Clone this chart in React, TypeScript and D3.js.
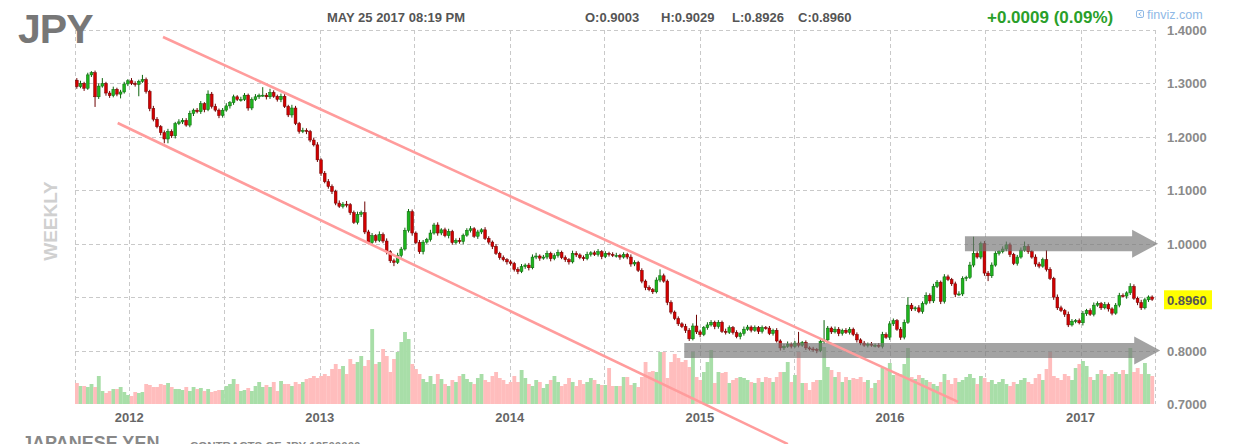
import React from 'react';
import * as d3 from 'd3';

const W = 1238;
const H = 444;

// ---------- data (weekly JPY futures) ----------
const firstOpen = 1.306;
const closes = [
  1.294,1.300,1.291,1.316,1.320,1.275,1.295,1.300,1.282,1.277,
  1.289,1.280,1.284,1.299,1.305,1.300,1.298,1.304,1.307,1.285,
  1.253,1.233,1.219,1.208,1.196,1.210,1.202,1.225,1.228,1.231,
  1.222,1.244,1.250,1.247,1.262,1.251,1.280,1.257,1.250,1.240,
  1.250,1.258,1.264,1.275,1.270,1.270,1.278,1.254,1.270,1.275,
  1.278,1.278,1.275,1.283,1.276,1.270,1.276,1.257,1.241,1.254,
  1.225,1.210,1.212,1.210,1.194,1.185,1.157,1.132,1.116,1.107,
  1.098,1.076,1.070,1.074,1.073,1.058,1.040,1.055,1.058,1.022,
  1.002,1.015,1.006,1.017,1.005,0.985,0.968,0.965,0.978,0.990,
  1.025,1.060,1.020,1.002,0.985,1.003,1.008,1.020,1.035,1.020,
  1.026,1.015,1.023,1.002,1.006,1.004,1.016,1.025,1.028,1.014,
  1.022,1.026,1.010,1.003,0.995,0.982,0.974,0.970,0.966,0.963,
  0.952,0.948,0.957,0.960,0.955,0.975,0.977,0.973,0.975,0.982,
  0.972,0.978,0.984,0.974,0.970,0.966,0.982,0.979,0.974,0.972,
  0.980,0.983,0.980,0.985,0.976,0.982,0.980,0.978,0.978,0.975,
  0.980,0.975,0.962,0.965,0.950,0.930,0.918,0.914,0.910,0.932,
  0.940,0.930,0.890,0.872,0.860,0.850,0.845,0.838,0.822,0.846,
  0.835,0.830,0.843,0.848,0.853,0.845,0.853,0.836,0.834,0.843,
  0.834,0.826,0.832,0.840,0.844,0.838,0.843,0.836,0.843,0.842,
  0.832,0.838,0.818,0.805,0.808,0.812,0.808,0.814,0.810,0.815,
  0.805,0.803,0.802,0.800,0.817,0.820,0.842,0.835,0.840,0.832,
  0.838,0.834,0.840,0.830,0.820,0.814,0.810,0.812,0.810,0.810,
  0.808,0.830,0.825,0.850,0.856,0.840,0.825,0.853,0.885,0.878,
  0.880,0.873,0.888,0.903,0.893,0.920,0.928,0.892,0.938,0.933,
  0.925,0.905,0.906,0.935,0.937,0.960,0.982,0.975,1.000,0.945,
  0.940,0.960,0.982,0.985,0.990,0.998,0.980,0.963,0.975,0.988,
  0.995,0.985,0.975,0.962,0.958,0.970,0.952,0.935,0.900,0.880,
  0.875,0.868,0.848,0.855,0.856,0.852,0.869,0.875,0.868,0.885,
  0.888,0.880,0.886,0.878,0.870,0.885,0.903,0.902,0.908,0.920,
  0.898,0.890,0.880,0.895,0.9003,0.8960,
];
// wick extents above / below the body, in thousandths
const wickUp = [
  4,5,3,4,3,4,5,10,3,4, 5,3,4,4,3,5,4,3,9,4, 3,5,4,3,4,5,4,3,5,4, 4,5,3,4,5,3,7,4,5,3,
  4,5,3,4,3,5,4,3,4,5, 3,15,4,7,4,3,5,4,3,6, 4,3,5,4,3,4,5,3,4,5, 4,3,5,4,6,3,4,5,4,21,
  4,5,3,6,4,5,3,4,5,4, 5,5,4,3,5,4,3,6,4,5, 3,4,5,3,4,5,3,4,5,3, 4,3,5,4,3,4,3,4,3,4,
  3,4,5,3,4,5,6,3,4,5, 3,4,5,3,4,3,5,4,3,4, 5,3,4,5,3,4,3,4,5,3, 4,3,5,4,3,4,3,4,3,5,
  12,4,3,4,3,4,3,5,4,5, 21,4,3,5,4,3,4,3,5,4, 3,4,3,5,4,3,4,3,4,3, 4,3,4,3,4,5,3,4,21,3,
  4,3,4,3,5,37,4,3,5,4, 3,4,4,3,4,3,4,3,4,3, 4,5,4,5,4,3,4,5,15,4, 3,5,4,6,4,5,4,3,5,4,
  3,4,5,4,3,6,31,4,4,5, 4,5,4,3,5,6,4,3,4,5, 9,4,3,5,4,4,18,4,3,5, 4,3,5,4,3,4,5,3,4,5,
  4,3,5,4,3,4,5,4,3,6, 4,3,5,4,3,3,
];
const wickDown = [
  4,3,5,3,4,19,4,3,5,4, 3,4,8,3,4,3,4,22,3,4, 5,4,3,5,8,8,4,5,3,4, 3,4,5,3,4,5,3,4,3,5,
  4,3,5,4,3,4,3,5,4,3, 4,3,5,4,3,4,5,3,4,5, 3,4,3,5,4,3,4,5,3,4, 5,4,3,4,5,4,3,4,5,4,
  3,5,4,3,4,5,4,7,3,4, 3,4,5,3,4,5,3,4,3,5, 4,3,5,4,3,4,5,3,4,3, 5,4,3,4,5,3,4,3,5,4,
  4,5,3,4,5,3,4,5,3,4, 5,3,4,3,4,5,3,4,3,4, 3,4,3,4,5,3,4,3,4,5, 3,4,5,4,3,4,5,3,4,3,
  4,3,5,4,3,4,3,5,4,3, 4,5,3,4,3,5,4,3,4,3, 4,3,5,4,3,4,3,5,4,3, 3,4,3,5,4,3,4,3,4,3,
  4,3,4,5,3,4,3,4,3,5, 4,3,4,3,5,4,3,4,3,4, 3,4,3,5,4,3,5,4,3,4, 4,3,4,3,5,4,3,5,4,3,
  4,5,3,4,5,3,4,3,4,5, 10,4,3,4,3,4,5,3,4,3, 3,4,3,5,4,3,4,3,5,4, 3,5,4,3,4,3,5,4,3,4,
  3,4,3,5,4,3,4,3,5,4, 3,5,4,3,4,3,
];
const volumes = [
  21,18,18,17,20,17,28,13,11,13, 15,15,17,12,9,8,12,11,12,20,
  19,17,17,20,19,21,17,15,15,14, 17,13,17,15,16,13,15,12,13,14,
  14,18,20,25,20,13,14,16,13,18, 22,17,19,17,22,13,23,20,20,18, 22,20,22,25,26,28,26,28,
  30,28,35,40,35,38,30,45,40,42, 48,38,44,75,40,42,55,48,32,45, 52,62,72,65,40,35,
  30,25,22,28,20,30,25,20,18,24, 22,28,30,25,22,20,26,30,24,22, 28,32,26,24,20,22,
  28,22,34,26,20,18,24,22,16,20, 24,28,22,18,20,26,22,18,24,20, 22,26,24,20,
  19,19,36,18,18,18,27,27,19,21, 17,27,42,32,33,32,52,52,26,42, 50,46,42,44,37,52,27,24,32,42,
  54,21,32,31,32,21,24,26,27,26, 24,22,21,26,22,27,26,22,27,32, 32,42,22,29,52,21,21,14,22,24,
  24,57,37,34,27,32,22,27,24,26, 25,27,22,24,16,21,24,36,34,41, 29,31,
  30,40,56,27,25,29,26,24,22,20, 18,22,30,24,20,26,22,24,27,30, 26,20,28,26,22,24,20,22,25,20,
  18,22,20,24,26,22,20,26,30,24, 35,52,28,26,24,30,28,24,36,40, 43,38,27,24,30,34,30,28,30,32,
  30,34,30,56,32,36,30,41,30,28,
];
const priceTicks = [1.4, 1.3, 1.2, 1.1, 1.0, 0.9, 0.8, 0.7];
const yearTicks = [2012, 2013, 2014, 2015, 2016, 2017];
const halfYearTicks = [2012, 2013, 2014, 2015, 2016];
const lastPrice = 0.896;
const headerDate = 'MAY 25 2017 08:19 PM';
const ohlcLabels = ['O:0.9003', 'H:0.9029', 'L:0.8926', 'C:0.8960'];
const changeLabel = '+0.0009 (0.09%)';
// channel trend lines and level arrows (date, price)
const channelUpper = [{ date: '2012-03-06', price: 1.387 }, { date: '2016-05-11', price: 0.704 }];
const channelLower = [{ date: '2011-12-10', price: 1.226 }, { date: '2015-06-19', price: 0.625 }];
const levelArrows = [
  { from: '2016-05-24', to: '2017-05-30', price: 1.0 },
  { from: '2014-12-02', to: '2017-06-03', price: 0.8 },
];

const FONT = 'Liberation Sans, Arial, Helvetica, sans-serif';

export default function App() {
  const x = d3.scaleTime()
    .domain([new Date(2011, 8, 19), new Date(2017, 4, 24)])
    .range([75, 1155]);
  const y = d3.scaleLinear().domain([0.7, 1.4]).range([404, 30]);
  const vy = d3.scaleLinear().domain([0, 80]).range([404, 324]);
  const parse = d3.timeParse('%Y-%m-%d');
  const week0 = new Date(2011, 8, 22, 12);
  const step = x(d3.timeDay.offset(week0, 7)) - x(week0);

  const candles = closes.map((c, i) => {
    const o = i === 0 ? firstOpen : closes[i - 1];
    const hi = Math.max(o, c) + (wickUp[i] ?? 4) / 1000;
    const lo = Math.min(o, c) - (wickDown[i] ?? 4) / 1000;
    return { date: d3.timeDay.offset(week0, 7 * i), o, c, hi, lo, v: volumes[i] ?? 0, up: c >= o };
  });

  const gridColor = '#c9c9c9';
  const dash = '4,3';

  return (
    <svg width={W} height={H} style={{ position: 'absolute', left: 0, top: 0, background: '#fff' }}
      fontFamily={FONT}>
      <rect x={0} y={0} width={W} height={H} fill="#fff" />
      {/* grid */}
      {priceTicks.filter(p => p > 0.7).map(p => (
        <line key={'h' + p} x1={75} x2={1155} y1={Math.round(y(p)) + 0.5} y2={Math.round(y(p)) + 0.5}
          stroke={gridColor} strokeDasharray={dash} />
      ))}
      {[new Date(2011, 8, 19), new Date(2017, 4, 24),
        ...yearTicks.map(yr => new Date(yr, 0, 1)),
        ...halfYearTicks.map(yr => new Date(yr, 6, 1))].map((d, i) => (
        <line key={'v' + i} x1={Math.round(x(d)) + 0.5} x2={Math.round(x(d)) + 0.5} y1={30} y2={404}
          stroke={gridColor} strokeDasharray={dash} />
      ))}

      {/* volume */}
      {candles.map((k, i) => (
        <rect key={'vol' + i} x={x(k.date) - step / 2} width={step + 0.2} y={vy(k.v)} height={vy(0) - vy(k.v)}
          fill={k.up ? '#a8dea8' : '#ffbdbd'} />
      ))}

      {/* candles */}
      {candles.map((k, i) => {
        const cx = x(k.date);
        const top = y(Math.max(k.o, k.c));
        const bot = y(Math.min(k.o, k.c));
        const dark = k.up ? '#0d650d' : '#6e0000';
        return (
          <g key={'c' + i}>
            <line x1={cx} x2={cx} y1={y(k.hi)} y2={y(k.lo)} stroke={dark} strokeWidth={1} />
            <rect x={cx - 1.4} width={2.8} y={top} height={Math.max(1, bot - top)}
              fill={k.up ? '#1db41d' : '#d20000'} stroke={dark} strokeWidth={0.5} />
          </g>
        );
      })}

      {/* level arrows */}
      {levelArrows.map((a, i) => {
        const x0 = x(parse(a.from)!);
        const x1 = x(parse(a.to)!);
        const cy = y(a.price);
        const hb = 7.5, hh = 14, hl = 26;
        const pts = [
          [x0, cy - hb], [x1 - hl, cy - hb], [x1 - hl, cy - hh], [x1, cy],
          [x1 - hl, cy + hh], [x1 - hl, cy + hb], [x0, cy + hb],
        ].map(p => p.join(',')).join(' ');
        return <polygon key={'a' + i} points={pts} fill="#777" opacity={0.68} />;
      })}

      {/* channel lines */}
      {[channelUpper, channelLower].map((ln, i) => (
        <line key={'ch' + i} x1={x(parse(ln[0].date)!)} y1={y(ln[0].price)}
          x2={x(parse(ln[1].date)!)} y2={y(ln[1].price)} stroke="#ff9c9c" strokeWidth={2.6} />
      ))}

      {/* y axis labels (the 0.9000 tick is covered by the last-price tag) */}
      {priceTicks.filter(p => Math.abs(p - 0.9) > 1e-9).map(p => (
        <text key={'yl' + p} x={1167} y={y(p) + 5} fontSize={13} fontWeight="bold" fill="#8a8a8a">
          {p.toFixed(4)}
        </text>
      ))}
      <rect x={1164} y={y(lastPrice) - 9} width={48} height={19} fill="#ffff00" />
      <text x={1167} y={y(lastPrice) + 5.5} fontSize={13} fontWeight="bold" fill="#555">{lastPrice.toFixed(4)}</text>

      {/* year labels */}
      {yearTicks.map(yr => (
        <text key={'yr' + yr} x={x(new Date(yr, 0, 1))} y={422} fontSize={13} fontWeight="bold" fill="#666"
          textAnchor="middle">{yr}</text>
      ))}

      {/* header */}
      <text x={18} y={43} fontSize={41} fontWeight="bold" fill="#777" letterSpacing={-1}>JPY</text>
      <text x={327} y={22} fontSize={13} fontWeight="bold" fill="#555">{headerDate}</text>
      {ohlcLabels.map((t, i) => (
        <text key={'o' + i} x={[585, 661, 732, 798][i]} y={22} fontSize={13} fontWeight="bold" fill="#555">{t}</text>
      ))}
      <text x={987} y={23} fontSize={17} fontWeight="bold" fill="#2a9f2a">{changeLabel}</text>
      <rect x={1136.5} y={10.5} width={7} height={7} rx={1.5} fill="none" stroke="#8fb9e6" strokeWidth={1} />
      <path d="M1141.5,12 L1138.8,14 L1141.5,16" fill="none" stroke="#8fb9e6" strokeWidth={1} />
      <text x={1147} y={18.5} fontSize={12.5} fill="#8fb9e6">finviz.com</text>

      {/* WEEKLY */}
      <text transform="translate(57,221) rotate(-90)" textAnchor="middle" fontSize={19} fontWeight="bold"
        fill="#d0d0d0">WEEKLY</text>

      {/* footer (cut off by the picture edge, as in the reference) */}
      <text x={22} y={449} fontSize={18} fontWeight="bold" fill="#888">JAPANESE YEN</text>
      <text x={190} y={450} fontSize={11.5} fontWeight="bold" fill="#888">CONTRACTS OF JPY 12500000</text>
    </svg>
  );
}
